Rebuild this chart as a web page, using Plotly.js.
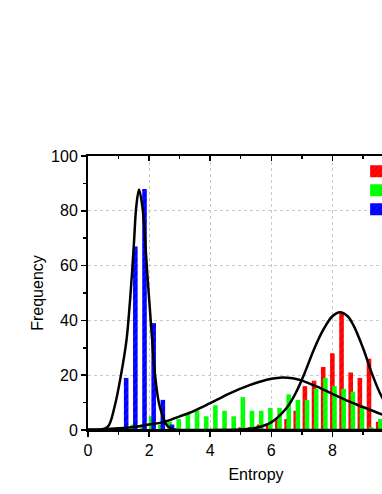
<!DOCTYPE html>
<html>
<head>
<meta charset="utf-8">
<script src="https://cdn.plot.ly/plotly-3.0.1.min.js"></script>
<style>
  html, body { margin: 0; padding: 0; overflow: hidden; background: #fff; }
  #chart { width: 450px; height: 494px; }
</style>
</head>
<body>
<div id="chart"></div>
<script>
// histogram bins
const redX = [5.0, 5.3, 5.6, 5.9, 6.2, 6.5, 6.8, 7.1, 7.4, 7.7, 8.0, 8.3, 8.6, 8.9, 9.2, 9.5];
const redY = [1, 1, 2, 2, 4, 4, 7, 16, 18, 23, 28, 43, 21, 19, 26, 3];

const greenX = [1.17, 1.47, 1.77, 2.07, 2.37, 2.67, 2.97, 3.27, 3.57, 3.87, 4.17, 4.47, 4.77, 5.07, 5.37,
                5.67, 5.97, 6.27, 6.57, 6.87, 7.17, 7.47, 7.77, 8.07, 8.37, 8.67, 8.97, 9.27, 9.57];
const greenY = [1, 2, 2, 5, 2, 3, 4, 6, 7, 5, 9, 7, 5, 12, 7, 7, 8, 8, 13, 11, 11, 15, 19, 16, 15, 14, 8, 1, 4];

const blueX = [1.25, 1.55, 1.85, 2.15, 2.45, 2.75];
const blueY = [19, 67, 88, 39, 11, 2];

// fitted curves, points
const blueFitX = [0, 0.4, 0.65, 0.87, 1.09, 1.26, 1.36, 1.44, 1.51, 1.58, 1.67, 1.78, 1.87, 1.94, 2.02, 2.10, 2.19, 2.35, 2.62, 2.9, 3.3, 11];
const blueFitY = [0, 0.1, 1.2, 8.5, 20.7, 32.8, 45, 57.2, 69.3, 81.5, 87.8, 81.5, 69.3, 57.2, 45, 32.8, 20.7, 8.5, 1.2, 0.1, 0, 0];

const greenFitX = [0, 0.5, 1.0, 1.5, 2.0, 2.35, 2.68, 3.0, 3.33, 3.98, 4.64, 5.29, 5.62, 6.0, 6.36, 6.7, 6.93, 7.5, 8.0, 8.5, 9.0, 9.5, 10, 10.5, 11];
const greenFitY = [0.15, 0.3, 0.6, 1.1, 2.0, 2.6, 3.6, 5.0, 6.3, 9.7, 13.4, 16.4, 17.6, 18.7, 19.2, 18.9, 18.3, 15.8, 13.2, 10.6, 8.4, 6.2, 4.3, 2.9, 1.9];

const redFitX = [0, 4.5, 5.0, 5.5, 6.0, 6.5, 6.8, 7.1, 7.4, 7.7, 8.0, 8.25, 8.5, 8.7, 9.0, 9.3, 9.6, 10.0, 10.5, 11];
const redFitY = [0, 0, 0.2, 0.8, 2.8, 8, 13.5, 21, 29.5, 36.5, 41.5, 43, 41.5, 38, 30, 20.5, 12.5, 5.5, 1.5, 0.3];

// ticks shown in the cropped view
const xTicks = [0, 2, 4, 6, 8];
const xMinorTicks = [1, 3, 5, 7, 9];

// legend labels fall outside the crop, only the swatches show
const names = ['', '', ''];

const font = 'Liberation Sans, Arial, sans-serif';

function bars(x, y, color, name) {
    return {
        type: 'bar',
        x: x,
        y: y,
        name: name,
        width: 0.15,
        marker: {
            color: color,
            line: { width: 0 },
            pattern: { shape: '/', fillmode: 'overlay', fgcolor: '#ffffff', fgopacity: 0.18, size: 5, solidity: 0.15 }
        },
    };
}

function fit(x, y) {
    return {
        type: 'scatter',
        mode: 'lines',
        x: x,
        y: y,
        showlegend: false,
        hoverinfo: 'skip',
        line: { color: '#000', width: 2.5, shape: 'spline', smoothing: 1 },
    };
}

var data = [
    bars(redX, redY, '#ff0000', names[0]),
    bars(greenX, greenY, '#00ff00', names[1]),
    bars(blueX, blueY, '#0000ff', names[2]),
    fit(blueFitX, blueFitY),
    fit(greenFitX, greenFitY),
    fit(redFitX, redFitY),
    // empty trace so the top tick axis gets drawn
    { type: 'scatter', x: [], y: [], xaxis: 'x2', showlegend: false },
];

var layout = {
    width: 450,
    height: 494,
    margin: { l: 88, r: 26, t: 156, b: 64 },
    paper_bgcolor: '#fff',
    plot_bgcolor: '#fff',
    font: { family: font, size: 16, color: '#000' },
    barmode: 'overlay',
    showlegend: true,
    legend: {
        x: 0.798, xanchor: 'left',
        y: 0.997, yanchor: 'top',
        bgcolor: 'rgba(0,0,0,0)',
        font: { size: 11 },
        tracegroupgap: 0,
    },
    xaxis: {
        range: [0, 11],
        tickmode: 'array', tickvals: xTicks,
        ticks: 'outside', ticklen: 5, tickwidth: 1.5, tickcolor: '#000',
        minor: { tickmode: 'array', tickvals: xMinorTicks, ticks: 'outside', ticklen: 3, tickwidth: 1.5, tickcolor: '#000', showgrid: false },
        showline: true, linecolor: '#000', linewidth: 2, mirror: true,
        showgrid: true, gridcolor: '#c8c8c8', griddash: 'dot', gridwidth: 1,
        zeroline: false,
        tickfont: { size: 16 },
        title: { text: 'Entropy', font: { size: 16 }, standoff: 11 },
    },
    xaxis2: {
        overlaying: 'x', side: 'top', anchor: 'y',
        range: [0, 11],
        tickmode: 'array', tickvals: xTicks,
        ticks: 'inside', ticklen: 5, tickwidth: 1.5, tickcolor: '#000',
        minor: { tickmode: 'array', tickvals: xMinorTicks, ticks: 'inside', ticklen: 3, tickwidth: 1.5, tickcolor: '#000', showgrid: false },
        showticklabels: false, showgrid: false, showline: false, zeroline: false,
    },
    yaxis: {
        range: [0, 100],
        tick0: 0, dtick: 20,
        ticks: 'outside', ticklen: 5, tickwidth: 1.5, tickcolor: '#000',
        minor: { ticks: 'outside', dtick: 10, ticklen: 3, tickwidth: 1.5, tickcolor: '#000', showgrid: false },
        showline: true, linecolor: '#000', linewidth: 2, mirror: true,
        showgrid: true, gridcolor: '#c8c8c8', griddash: 'dot', gridwidth: 1,
        zeroline: false,
        tickfont: { size: 16 },
        title: { text: 'Frequency', font: { size: 16 }, standoff: 3 },
    },
};

Plotly.newPlot('chart', data, layout, { displayModeBar: false, staticPlot: true });
</script>
</body>
</html>
